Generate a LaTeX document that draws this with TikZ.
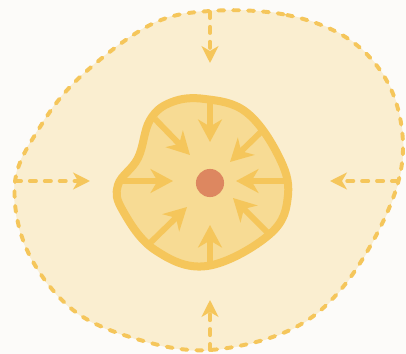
\documentclass[tikz,border=0pt]{standalone}
\usetikzlibrary{arrows.meta}
\definecolor{bgcol}{HTML}{FCFBF9}
\definecolor{halo}{HTML}{FAEED0}
\definecolor{pulp}{HTML}{F7DB94}
\definecolor{rim}{HTML}{F5C65B}
\definecolor{seed}{HTML}{DD8760}
\tikzset{
  pull/.style={rim, line width=4.2pt, -{Stealth[length=16pt, width=17pt, inset=5pt]}},
  drift/.style={rim, line width=2.8pt, line cap=round, dash pattern=on 4.3pt off 6.3pt,
    -{Stealth[length=12pt, width=12pt, inset=3.5pt]}}
}

\begin{document}
\begin{tikzpicture}[x=0.25mm, y=-0.25mm]
\fill[bgcol] (0,0) rectangle (406,354);
\useasboundingbox (0,0) rectangle (406,354);
% outer region
\draw[halo, fill=halo] plot[smooth cycle, tension=0.6] coordinates {
  (210,11) (287,15) (350,40) (390,87) (403,150) (387,213) (343,287) (290,330)
  (210,350) (140,340) (73,310) (27,250) (15,182) (40,127) (80,77) (150,25)};
\draw[rim, line width=2.8pt, line cap=round, dash pattern=on 4.3pt off 6.3pt]
  plot[smooth cycle, tension=0.6] coordinates {
  (210,11) (287,15) (350,40) (390,87) (403,150) (387,213) (343,287) (290,330)
  (210,350) (140,340) (73,310) (27,250) (15,182) (40,127) (80,77) (150,25)};
% inner region
\draw[rim, fill=pulp, line width=5.7pt] plot[smooth cycle, tension=0.65] coordinates {
  (205,99) (246,112) (278,155) (288,195) (270,234) (207,266) (155,250)
  (123,211) (118,185) (138,158) (150,120) (172,102)};
\node[circle, fill=seed, minimum size=20pt, inner sep=0pt] (core) at (210,183) {};

% outer points and tips
\coordinate (o-n) at (210,12);  \coordinate (o-n-tip) at (210,63);
\coordinate (o-w) at (15,181);  \coordinate (o-w-tip) at (90,181);
\coordinate (o-e) at (398,181); \coordinate (o-e-tip) at (330,181);
\coordinate (o-s) at (210,350); \coordinate (o-s-tip) at (210,300);
\draw[drift] (o-n) -- (o-n-tip);
\draw[drift] (o-w) -- (o-w-tip);
\draw[drift] (o-e) -- (o-e-tip);
\draw[drift] (o-s) -- (o-s-tip);

% inner points and tips
\coordinate (i-n) at (210,102);  \coordinate (i-n-tip) at (210,142);
\coordinate (i-s) at (210,264);  \coordinate (i-s-tip) at (210,225);
\coordinate (i-w) at (120,181);  \coordinate (i-w-tip) at (173,181);
\coordinate (i-e) at (286,181);  \coordinate (i-e-tip) at (236,181);
\coordinate (i-nw) at (155,119); \coordinate (i-nw-tip) at (190,155);
\coordinate (i-ne) at (264,129); \coordinate (i-ne-tip) at (230,162);
\coordinate (i-sw) at (149,244); \coordinate (i-sw-tip) at (187,207);
\coordinate (i-se) at (268,233); \coordinate (i-se-tip) at (233,198);
\draw[pull] (i-n) -- (i-n-tip);
\draw[pull] (i-s) -- (i-s-tip);
\draw[pull] (i-w) -- (i-w-tip);
\draw[pull] (i-e) -- (i-e-tip);
\draw[pull] (i-nw) -- (i-nw-tip);
\draw[pull] (i-ne) -- (i-ne-tip);
\draw[pull] (i-sw) -- (i-sw-tip);
\draw[pull] (i-se) -- (i-se-tip);
\end{tikzpicture}
\end{document}
